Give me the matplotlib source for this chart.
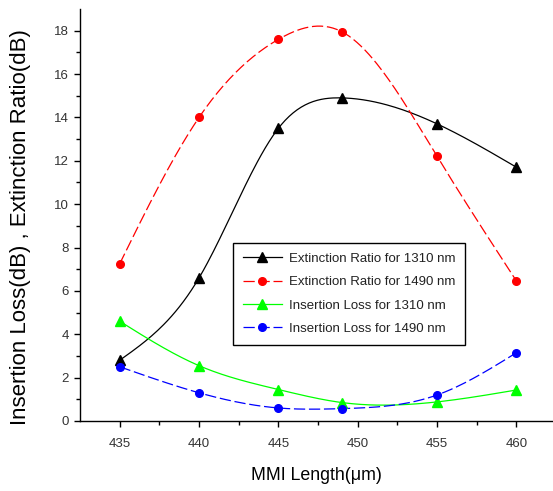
import numpy as np
import matplotlib
matplotlib.use('Agg')
import matplotlib.pyplot as plt

plt.rcParams['font.family'] = ['Liberation Sans', 'DejaVu Sans']

# --- DATA ---
mmi_length = [435, 440, 445, 449, 455, 460]
er_1310 = [2.8, 6.6, 13.5, 14.9, 13.7, 11.7]
er_1490 = [7.25, 14.0, 17.6, 17.95, 12.2, 6.45]
il_1310 = [4.6, 2.55, 1.45, 0.85, 0.88, 1.43]
il_1490 = [2.5, 1.3, 0.6, 0.57, 1.2, 3.15]

labels = ['Extinction Ratio for 1310 nm', 'Extinction Ratio for 1490 nm',
          'Insertion Loss for 1310 nm', 'Insertion Loss for 1490 nm']


# smooth line through the points (natural cubic spline, like Origin's spline connect)
def spline_curve(x, y, n=200):
    x = np.asarray(x, float)
    y = np.asarray(y, float)
    k = len(x)
    h = np.diff(x)
    A = np.zeros((k, k))
    b = np.zeros(k)
    A[0, 0] = 1
    A[-1, -1] = 1
    for i in range(1, k - 1):
        A[i, i - 1] = h[i - 1]
        A[i, i] = 2 * (h[i - 1] + h[i])
        A[i, i + 1] = h[i]
        b[i] = 6 * ((y[i + 1] - y[i]) / h[i] - (y[i] - y[i - 1]) / h[i - 1])
    m = np.linalg.solve(A, b)
    xs = np.linspace(x[0], x[-1], n)
    idx = np.clip(np.searchsorted(x, xs) - 1, 0, k - 2)
    x0, x1 = x[idx], x[idx + 1]
    y0, y1 = y[idx], y[idx + 1]
    m0, m1 = m[idx], m[idx + 1]
    hh = x1 - x0
    t0 = x1 - xs
    t1 = xs - x0
    ys = (m0 * t0 ** 3 + m1 * t1 ** 3) / (6 * hh) \
        + (y0 / hh - m0 * hh / 6) * t0 + (y1 / hh - m1 * hh / 6) * t1
    return xs, ys


fig = plt.figure(figsize=(5.53, 4.91), dpi=100)
ax = fig.add_axes([0.1447, 0.1426, 0.8553, 0.8391])

styles = [
    (er_1310, 'black', '-', '^', 7),
    (er_1490, 'red', (0, (9, 3)), 'o', 5.5),
    (il_1310, '#00ff00', '-', '^', 7),
    (il_1490, 'blue', (0, (9, 3)), 'o', 5.5),
]
handles = []
for (vals, col, ls, mk, ms), lab in zip(styles, labels):
    xs, ys = spline_curve(mmi_length, vals)
    ax.plot(xs, ys, color=col, linestyle=ls, linewidth=0.9, zorder=2)
    ax.plot(mmi_length, vals, linestyle='none', marker=mk, markersize=ms,
            color=col, zorder=3)
    h, = ax.plot([], [], color=col, linestyle=ls, linewidth=0.9,
                 marker=mk, markersize=ms, label=lab)
    handles.append(h)

ax.set_xlim(432.5, 462.3)
ax.set_ylim(0, 19)
ax.set_xticks([435, 440, 445, 450, 455, 460])
ax.set_xticks(np.arange(437.5, 462, 5), minor=True)
ax.set_yticks(np.arange(0, 19, 2))
ax.set_yticks(np.arange(1, 19, 2), minor=True)

for s in ['top', 'right']:
    ax.spines[s].set_visible(False)
ax.spines['left'].set_linewidth(1.0)
ax.spines['bottom'].set_linewidth(1.0)
ax.tick_params(which='major', direction='out', length=4.5, width=1,
               labelsize=9.5, colors='black', labelcolor='#333333')
ax.tick_params(axis='x', which='major', pad=8)
ax.tick_params(which='minor', direction='out', length=3, width=1)

ax.set_xlabel('MMI Length(μm)', fontsize=12.8, labelpad=12)
ax.set_ylabel('Insertion Loss(dB) , Extinction Ratio(dB)', fontsize=16)
ax.yaxis.set_label_coords(-0.104, 0.47)

leg = ax.legend(handles=handles, loc='upper left', bbox_to_anchor=(0.323, 0.433),
                borderaxespad=0, fontsize=9.5, handlelength=3.0, handletextpad=0.5,
                labelspacing=0.85, borderpad=0.75,
                fancybox=False, framealpha=1, edgecolor='black')
leg.get_frame().set_linewidth(1.0)
for t in leg.get_texts():
    t.set_color('#222222')

fig.savefig('out.png', dpi=100)
